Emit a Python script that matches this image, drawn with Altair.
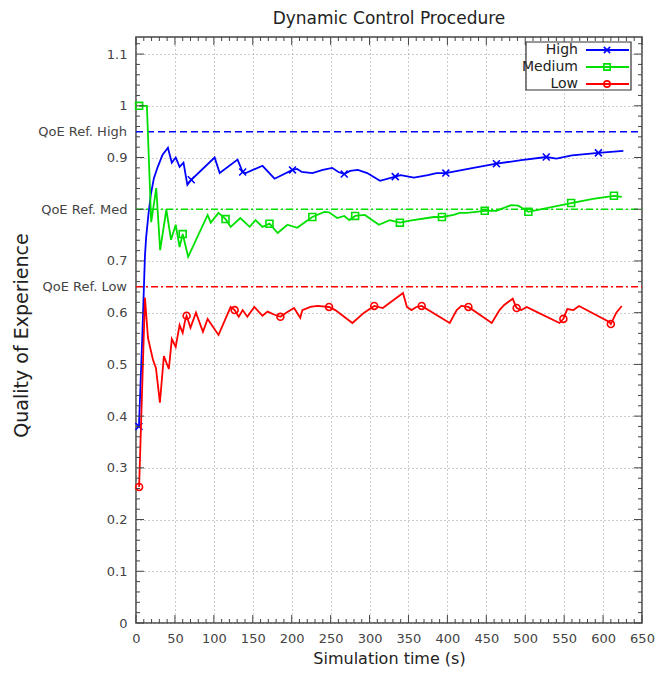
import altair as alt
import pandas as pd

# ---------------- data ----------------
high_t = [3.8, 8, 11.5, 13, 16, 19, 23, 28, 34, 41, 46, 51, 56, 61, 66,
          71, 101, 107.5, 130.5, 137, 141, 162.5, 178, 201, 207, 213, 226.5,
          240, 252, 260, 267.5, 275, 285, 297, 313.5, 333, 340, 357, 375, 386,
          398, 430, 463, 495, 527, 540, 560, 594, 626]
high_q = [0.38, 0.55, 0.71, 0.745, 0.79, 0.828, 0.86, 0.882, 0.905, 0.919,
          0.89, 0.90, 0.882, 0.89, 0.847, 0.857, 0.90, 0.87, 0.896, 0.872,
          0.87, 0.884, 0.859, 0.876, 0.878, 0.872, 0.870, 0.876, 0.880, 0.872,
          0.868, 0.874, 0.876, 0.870, 0.855, 0.863, 0.866, 0.861, 0.866, 0.870,
          0.870, 0.879, 0.888, 0.895, 0.901, 0.898, 0.904, 0.909, 0.913]
high_mark_t = [3.8, 71, 137, 201, 267.5, 333, 398, 463, 527, 594]
high_mark_q = [0.38, 0.857, 0.872, 0.876, 0.868, 0.863, 0.870, 0.888, 0.901, 0.909]

med_t = [4, 14, 19.5, 26, 31, 39, 45, 51, 56, 60, 67, 92, 96, 106, 115,
         121.6, 134, 146, 153.5, 162.5, 171.5, 182, 194.5, 207, 226.5, 242,
         248, 258.5, 267.5, 274, 281.5, 294, 312, 326, 339, 352, 382.6, 393,
         408, 416, 425, 448, 463, 482, 491, 504, 559, 587, 614, 624]
med_q = [1.0, 1.0, 0.775, 0.841, 0.721, 0.799, 0.741, 0.77, 0.727, 0.752,
         0.708, 0.789, 0.774, 0.793, 0.781, 0.766, 0.783, 0.766, 0.779, 0.766,
         0.772, 0.754, 0.770, 0.764, 0.785, 0.795, 0.794, 0.783, 0.787, 0.779,
         0.787, 0.789, 0.770, 0.779, 0.774, 0.778, 0.785, 0.785, 0.789, 0.793,
         0.793, 0.797, 0.797, 0.808, 0.807, 0.795, 0.812, 0.820, 0.826, 0.824]
med_mark_t = [4, 60, 115, 171.5, 226.5, 281.5, 339, 393, 448, 504, 559, 614]
med_mark_q = [1.0, 0.752, 0.781, 0.772, 0.785, 0.787, 0.774, 0.785, 0.797,
              0.795, 0.812, 0.826]

low_t = [4, 11.5, 15.4, 21.8, 25.6, 30.7, 35.8, 42.2, 46, 51, 56, 60, 62.7,
         65, 70, 77, 86, 92, 106, 121.6, 126.7, 132, 137, 143, 152, 162.5,
         169, 178, 185.5, 193, 203, 211, 213.7, 224, 233, 248, 256, 278, 293,
         306, 317, 343, 348, 354, 360, 367, 403, 412, 418, 427, 457, 467, 473,
         484, 487, 489, 495, 502, 510, 544, 549, 554, 562, 569, 574, 608, 610,
         617, 624]
low_q = [0.263, 0.629, 0.551, 0.509, 0.493, 0.426, 0.516, 0.491, 0.549, 0.534,
         0.576, 0.561, 0.582, 0.594, 0.571, 0.600, 0.563, 0.588, 0.557, 0.611,
         0.605, 0.592, 0.605, 0.592, 0.611, 0.594, 0.602, 0.596, 0.592, 0.600,
         0.609, 0.590, 0.605, 0.611, 0.613, 0.611, 0.605, 0.580, 0.600, 0.613,
         0.609, 0.638, 0.611, 0.605, 0.611, 0.613, 0.580, 0.605, 0.613, 0.611,
         0.580, 0.605, 0.615, 0.627, 0.615, 0.609, 0.605, 0.611, 0.605, 0.580,
         0.588, 0.607, 0.605, 0.613, 0.609, 0.582, 0.578, 0.600, 0.613]
low_mark_t = [4, 65, 126.7, 185.5, 248, 306, 367, 427, 489, 549, 610]
low_mark_q = [0.263, 0.594, 0.605, 0.592, 0.611, 0.613, 0.613, 0.611, 0.609,
              0.588, 0.578]

series_names = ["High", "Medium", "Low"]
ref_levels = [0.95, 0.8, 0.65]
ref_labels = ["QoE Ref. High", "QoE Ref. Med", "QoE Ref. Low"]

x_ticks = [0, 50, 100, 150, 200, 250, 300, 350, 400, 450, 500, 550, 600, 650]
x_minor = [v for v in range(0, 651, 10) if v % 50 != 0]
y_ticks = [0, 0.1, 0.2, 0.3, 0.4, 0.5, 0.6, 0.7, 0.8, 0.9, 1.0, 1.1]
y_minor = [round(i * 0.02, 2) for i in range(0, 57) if i % 5 != 0]

# ---------------- styling ----------------
W, H = 506, 586
FONT = "DejaVu Sans"
BORDER = "#444444"
COLORS = ["#0000ff", "#00e000", "#ff0000"]
REF_DASH = [[7, 4], [7, 3, 2, 3], [7, 3, 2, 3]]
X_PATH = "M-1,-1L1,1M-1,1L1,-1"
SHAPES = [X_PATH, "square", "circle"]

x_scale = alt.Scale(domain=[0, 650], nice=False, zero=False)
y_scale = alt.Scale(domain=[0, 1.133], nice=False, zero=False)

label_expr = ("abs(datum.value-0.8)<0.001 ? '" + ref_labels[1] +
              "' : format(datum.value, '~g')")

x_axis = alt.Axis(values=x_ticks, grid=True, gridDash=[1, 3], gridColor="#9a9a9a",
                  gridWidth=1, ticks=False, domain=False, labelPadding=9,
                  labelFontSize=13, labelColor="#444", labelFont=FONT,
                  labelOverlap=False, labelFlush=False,
                  title="Simulation time (s)",
                  titleFontSize=16, titleFont=FONT, titleFontWeight="normal",
                  titleColor="#222", titlePadding=5)
y_axis = alt.Axis(values=y_ticks, grid=True, gridDash=[1, 3],
                  gridColor="#9a9a9a", gridWidth=1,
                  ticks=False, domain=False, labelPadding=9, labelFontSize=13,
                  labelColor="#444", labelFont=FONT, labelOverlap=False,
                  labelFlush=False,
                  labelExpr=label_expr, title="Quality of Experience",
                  titleFontSize=19, titleFont=FONT, titleFontWeight="normal",
                  titleColor="#222", titleX=-115, titleY=298,
                  titleAlign="center", titleBaseline="middle", titleAngle=-90)

X = alt.X("t:Q", scale=x_scale, axis=x_axis)
Y = alt.Y("q:Q", scale=y_scale, axis=y_axis)

layers = []

# reference lines
for lvl, col, dash in zip(ref_levels, COLORS, REF_DASH):
    layers.append(alt.Chart(pd.DataFrame({"q": [lvl]})).mark_rule(
        color=col, strokeWidth=1.5, strokeDash=dash).encode(
        y=Y, x=alt.value(0), x2=alt.value(W)))

# extra y labels for the High / Low reference levels
ref_extra = pd.DataFrame({"q": [ref_levels[0], ref_levels[2]],
                          "lab": [ref_labels[0], ref_labels[2]]})
layers.append(alt.Chart(ref_extra).mark_text(
    align="right", baseline="middle", font=FONT, fontSize=13,
    color="#444").encode(y=Y, x=alt.value(-9), text="lab:N"))

# series lines and markers
series = [(high_t, high_q, high_mark_t, high_mark_q),
          (med_t, med_q, med_mark_t, med_mark_q),
          (low_t, low_q, low_mark_t, low_mark_q)]
for (t, q, mt, mq), col, shp in zip(series, COLORS, SHAPES):
    layers.append(alt.Chart(pd.DataFrame({"t": t, "q": q})).mark_line(
        color=col, strokeWidth=1.8).encode(x=X, y=Y))
    layers.append(alt.Chart(pd.DataFrame({"t": mt, "q": mq})).mark_point(
        shape=shp, color=col, filled=False, size=48, strokeWidth=1.6,
        opacity=1).encode(x=X, y=Y))

# inward tick marks on all four sides
def xticks(vals, length):
    d = pd.DataFrame({"t": vals})
    return [alt.Chart(d).mark_rule(color=BORDER, strokeWidth=1).encode(
                x=X, y=alt.value(H), y2=alt.value(H - length)),
            alt.Chart(d).mark_rule(color=BORDER, strokeWidth=1).encode(
                x=X, y=alt.value(0), y2=alt.value(length))]

def yticks(vals, length):
    d = pd.DataFrame({"q": vals})
    return [alt.Chart(d).mark_rule(color=BORDER, strokeWidth=1).encode(
                y=Y, x=alt.value(0), x2=alt.value(length)),
            alt.Chart(d).mark_rule(color=BORDER, strokeWidth=1).encode(
                y=Y, x=alt.value(W), x2=alt.value(W - length))]

layers += xticks(x_ticks, 8) + xticks(x_minor, 4)
layers += yticks(y_ticks, 8) + yticks(y_minor, 4)

# legend (gnuplot style: label, then line sample with marker)
one = pd.DataFrame({"a": [0]})
LX = W - 116
layers.append(alt.Chart(one).mark_rect(fill="white", stroke="#333",
                                       strokeWidth=1.2).encode(
    x=alt.value(LX), x2=alt.value(LX + 105), y=alt.value(5), y2=alt.value(53)))
for i, (name, col, shp) in enumerate(zip(series_names, COLORS, SHAPES)):
    yy = 13 + 17 * i
    layers.append(alt.Chart(one).mark_text(
        text=name, align="right", baseline="middle", font=FONT, fontSize=14,
        color="#222").encode(x=alt.value(LX + 52), y=alt.value(yy)))
    layers.append(alt.Chart(one).mark_rule(color=col, strokeWidth=1.8).encode(
        x=alt.value(LX + 60), x2=alt.value(LX + 103), y=alt.value(yy)))
    layers.append(alt.Chart(one).mark_point(
        shape=shp, color=col, filled=False, size=40, strokeWidth=1.6,
        opacity=1).encode(x=alt.value(LX + 81), y=alt.value(yy)))

chart = alt.layer(*layers).properties(
    width=W, height=H,
    title=alt.TitleParams(text="Dynamic Control Procedure", font=FONT,
                          fontSize=17, fontWeight="normal", color="#222",
                          anchor="middle", frame="group", offset=9),
    autosize=alt.AutoSizeParams(type="none"),
    padding={"left": 128, "top": 29, "right": 15, "bottom": 45},
).configure_view(stroke=BORDER, strokeWidth=1.5)

chart.save("out.html", embed_options={"renderer": "svg", "actions": False})
